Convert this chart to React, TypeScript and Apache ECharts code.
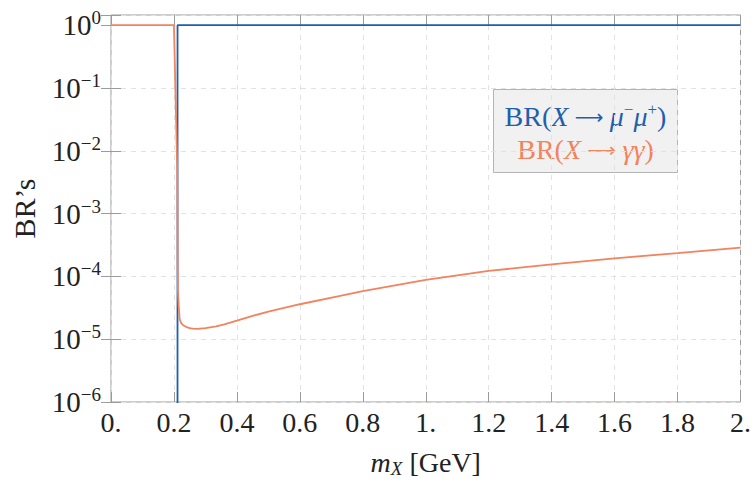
import React, { useEffect, useRef } from "react";
import * as echarts from "echarts";

// Branching ratios of X versus its mass m_X (GeV)
const muMass: number[] = [0.2113, 0.2114, 2.0];
const muBR: number[] = [1e-8, 0.998, 0.9997];

const gammaMass: number[] = [
  0, 0.2, 0.2105, 0.2113, 0.2118, 0.2125, 0.215, 0.218, 0.223, 0.229, 0.24,
  0.25, 0.26, 0.275, 0.3, 0.334, 0.36, 0.4, 0.45, 0.5, 0.6, 0.728, 0.8, 1.0,
  1.2, 1.4, 1.6, 1.8, 2.0,
];
const gammaBR: number[] = [
  1, 1, 5e-3, 8e-4, 2e-4, 6e-5, 3.5e-5, 2.1e-5, 1.8e-5, 1.67e-5, 1.56e-5,
  1.5e-5, 1.47e-5, 1.46e-5, 1.5e-5, 1.6e-5, 1.72e-5, 1.97e-5, 2.35e-5,
  2.75e-5, 3.6e-5, 4.9e-5, 5.8e-5, 8.8e-5, 1.22e-4, 1.55e-4, 1.94e-4,
  2.35e-4, 2.87e-4,
];

const xTickLabels: Record<string, string> = { "0": "0.", "1": "1.", "2": "2." };

const BLUE = "#1f5fad";
const ORANGE = "#f3825e";
const FRAME = "#9b9b9b";
const GRID = "#e2e2e2";
const INK = "#222";
const SERIF = "'Liberation Serif', 'DejaVu Serif', serif";

export default function App() {
  const ref = useRef<HTMLDivElement>(null);

  useEffect(() => {
    document.body.style.margin = "0";
    if (!ref.current) return;
    const chart = echarts.init(ref.current, null, { renderer: "svg" });

    const xBase = {
      type: "value" as const,
      min: 0,
      max: 2,
      interval: 0.2,
    };
    const yBase = {
      type: "log" as const,
      logBase: 10,
      min: 1e-6,
      max: 1.45,
      splitNumber: 6,
    };

    const supRich = {
      b: { fontFamily: SERIF, fontSize: 29, color: INK, lineHeight: 34 },
      s: {
        fontFamily: SERIF,
        fontSize: 19,
        color: INK,
        verticalAlign: "top" as const,
        lineHeight: 19,
      },
    };

    // rich-text styles for graphic texts (zrender uses fill)
    const mathRich = (color: string) => ({
      r: { fontFamily: SERIF, fontSize: 28, fill: color, lineHeight: 32 },
      i: { fontFamily: SERIF, fontSize: 28, fontStyle: "italic", fill: color, lineHeight: 32 },
      a: { fontFamily: "'DejaVu Sans', sans-serif", fontSize: 20, fill: color, lineHeight: 32 },
      s: {
        fontFamily: SERIF,
        fontSize: 17,
        fill: color,
        verticalAlign: "top",
        lineHeight: 17,
      },
    });

    chart.setOption({
      animation: false,
      grid: {
        left: 111,
        right: 11,
        top: 15,
        bottom: 77,
        show: true,
        borderColor: FRAME,
        borderWidth: 1,
      },
      xAxis: [
        {
          ...xBase,
          position: "bottom",
          axisLine: { show: false },
          axisTick: { show: true, inside: true, length: 10, lineStyle: { color: FRAME } },
          splitLine: { show: true, lineStyle: { color: GRID, type: [5, 5], width: 1 } },
          axisLabel: {
            margin: 6,
            fontFamily: SERIF,
            fontSize: 28,
            color: INK,
            formatter: (v: number) => {
              const k = String(Math.round(v * 10) / 10);
              return xTickLabels[k] ?? (Math.round(v * 10) / 10).toFixed(1);
            },
          },
          name: "{i|m}{sub|X}{r|\u00a0[GeV]}",
          nameLocation: "middle",
          nameGap: 44,
          nameTextStyle: {
            rich: {
              i: { fontFamily: SERIF, fontSize: 28, fontStyle: "italic", color: INK, lineHeight: 32 },
              r: { fontFamily: SERIF, fontSize: 28, color: INK, lineHeight: 32 },
              sub: {
                fontFamily: SERIF,
                fontSize: 19,
                fontStyle: "italic",
                color: INK,
                verticalAlign: "bottom",
                lineHeight: 19,
              },
            },
          },
        },
        {
          ...xBase,
          position: "top",
          axisLine: { show: false },
          axisTick: { show: true, inside: true, length: 10, lineStyle: { color: FRAME } },
          splitLine: { show: false },
          axisLabel: { show: false },
        },
      ],
      yAxis: [
        {
          ...yBase,
          position: "left",
          axisLine: { show: false },
          axisTick: { show: true, inside: true, length: 10, lineStyle: { color: FRAME } },
          minorTick: { show: false },
          splitLine: { show: true, lineStyle: { color: GRID, type: [5, 5], width: 1 } },
          axisLabel: {
            margin: 10,
            rich: supRich,
            formatter: (v: number) => {
              const e = Math.log10(v);
              const n = Math.round(e);
              if (Math.abs(e - n) > 0.01) return "";
              const exp = n < 0 ? "\u2212" + String(-n) : String(n);
              return `{b|10}{s|${exp}}`;
            },
          },
          name: "BR\u2019s",
          nameLocation: "middle",
          nameGap: 72,
          nameRotate: 90,
          nameTextStyle: { fontFamily: SERIF, fontSize: 30, color: INK },
        },
        {
          ...yBase,
          position: "right",
          axisLine: { show: false },
          axisTick: { show: true, inside: true, length: 10, lineStyle: { color: FRAME } },
          splitLine: { show: false },
          axisLabel: { show: false },
        },
      ],
      series: [
        {
          name: "mumu",
          type: "line",
          xAxisIndex: 0,
          yAxisIndex: 0,
          showSymbol: false,
          clip: true,
          lineStyle: { color: BLUE, width: 1.8 },
          data: muMass.map((m, k) => [m, muBR[k]]),
        },
        {
          name: "gammagamma",
          type: "line",
          xAxisIndex: 0,
          yAxisIndex: 0,
          showSymbol: false,
          clip: true,
          lineStyle: { color: ORANGE, width: 1.8 },
          data: gammaMass.map((m, k) => [m, gammaBR[k]]),
        },
      ],
      graphic: [
        {
          type: "group",
          left: 493,
          top: 89,
          children: [
            {
              type: "rect",
              shape: { x: 0, y: 0, width: 184, height: 83 },
              style: { fill: "#f1f1f1", stroke: "#b4b4b4", lineWidth: 1 },
            },
            {
              type: "text",
              x: 92,
              y: 27,
              style: {
                text: "{r|BR(}{i|X}{a|\u00a0\u27f6\u00a0}{i|\u03bc}{s|\u2212}{i|\u03bc}{s|+}{r|)}",
                rich: mathRich(BLUE),
                fill: BLUE,
                align: "center",
                verticalAlign: "middle",
              },
            },
            {
              type: "text",
              x: 92,
              y: 60,
              style: {
                text: "{r|BR(}{i|X}{a|\u00a0\u27f6\u00a0}{i|\u03b3\u03b3}{r|)}",
                rich: mathRich(ORANGE),
                fill: ORANGE,
                align: "center",
                verticalAlign: "middle",
              },
            },
          ],
        },
      ],
    });

    return () => chart.dispose();
  }, []);

  return <div ref={ref} style={{ width: 754, height: 483 }} />;
}
